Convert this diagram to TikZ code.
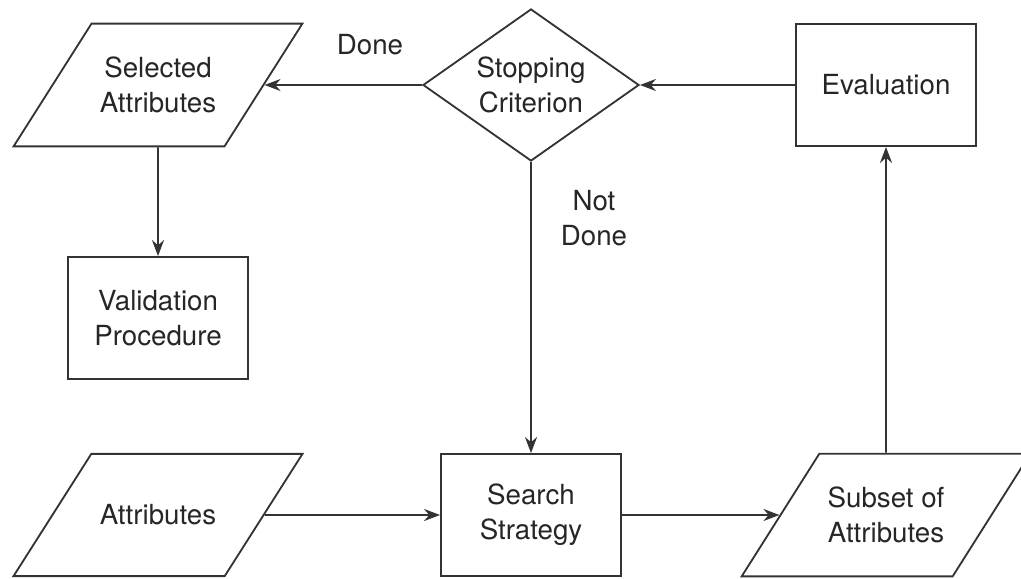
\documentclass[tikz,border=0pt]{standalone}
\usepackage{fontspec}
\setmainfont{TeX Gyre Heros}
\usetikzlibrary{shapes.geometric,arrows.meta}

\tikzset{
  every node/.style={font=\fontsize{19.7}{25}\selectfont, align=center, text=black!85},
  box/.style={draw=black!80, rectangle, line width=1.3pt, inner sep=0,
    minimum width=4.5cm, minimum height=3.05cm},
  data/.style={draw=black!80, trapezium, trapezium left angle=61,
    trapezium right angle=119, trapezium stretches=true, line width=1.3pt,
    inner xsep=0, inner ysep=0.83cm, minimum width=7.225cm, minimum height=3.05cm},
  decision/.style={draw=black!80, diamond, aspect=1.42, line width=1.3pt, inner sep=0,
    minimum width=5.4cm, minimum height=3.8cm},
  arr/.style={draw=black!80, line width=1.3pt, -{Stealth[length=4mm,width=3mm]}}
}

\begin{document}
\begin{tikzpicture}[x=0.025cm,y=-0.025cm]
  \useasboundingbox (0,0) rectangle (1021,579);
  \clip (0,0) rectangle (1021,579);

  % upper row
  \node[data]     (sel)    at (158,85)  {Selected\\Attributes};
  \node[decision] (stop)   at (531,85)  {Stopping\\Criterion};
  \node[box]      (eval)   at (886,85)  {Evaluation};
  \node[box]      (valid)  at (158,318) {Validation\\Procedure};

  % lower row
  \node[data, inner ysep=1.27cm] (attr) at (158,515) {Attributes};
  \node[box]      (search) at (531,515) {Search\\Strategy};
  \node[data]     (subset) at (886,515) {Subset of\\Attributes};

  \node (done)    at (370,45)  {Done};
  \node (notdone) at (594,218) {Not\\Done};

  \draw[arr] (stop) -- (sel);
  \draw[arr] (eval) -- (stop);
  \draw[arr] (sel) -- (valid);
  \draw[arr] (stop) -- (search);
  \draw[arr] (attr) -- (search);
  \draw[arr] (search) -- (subset);
  \draw[arr] (subset) -- (eval);
\end{tikzpicture}
\end{document}
